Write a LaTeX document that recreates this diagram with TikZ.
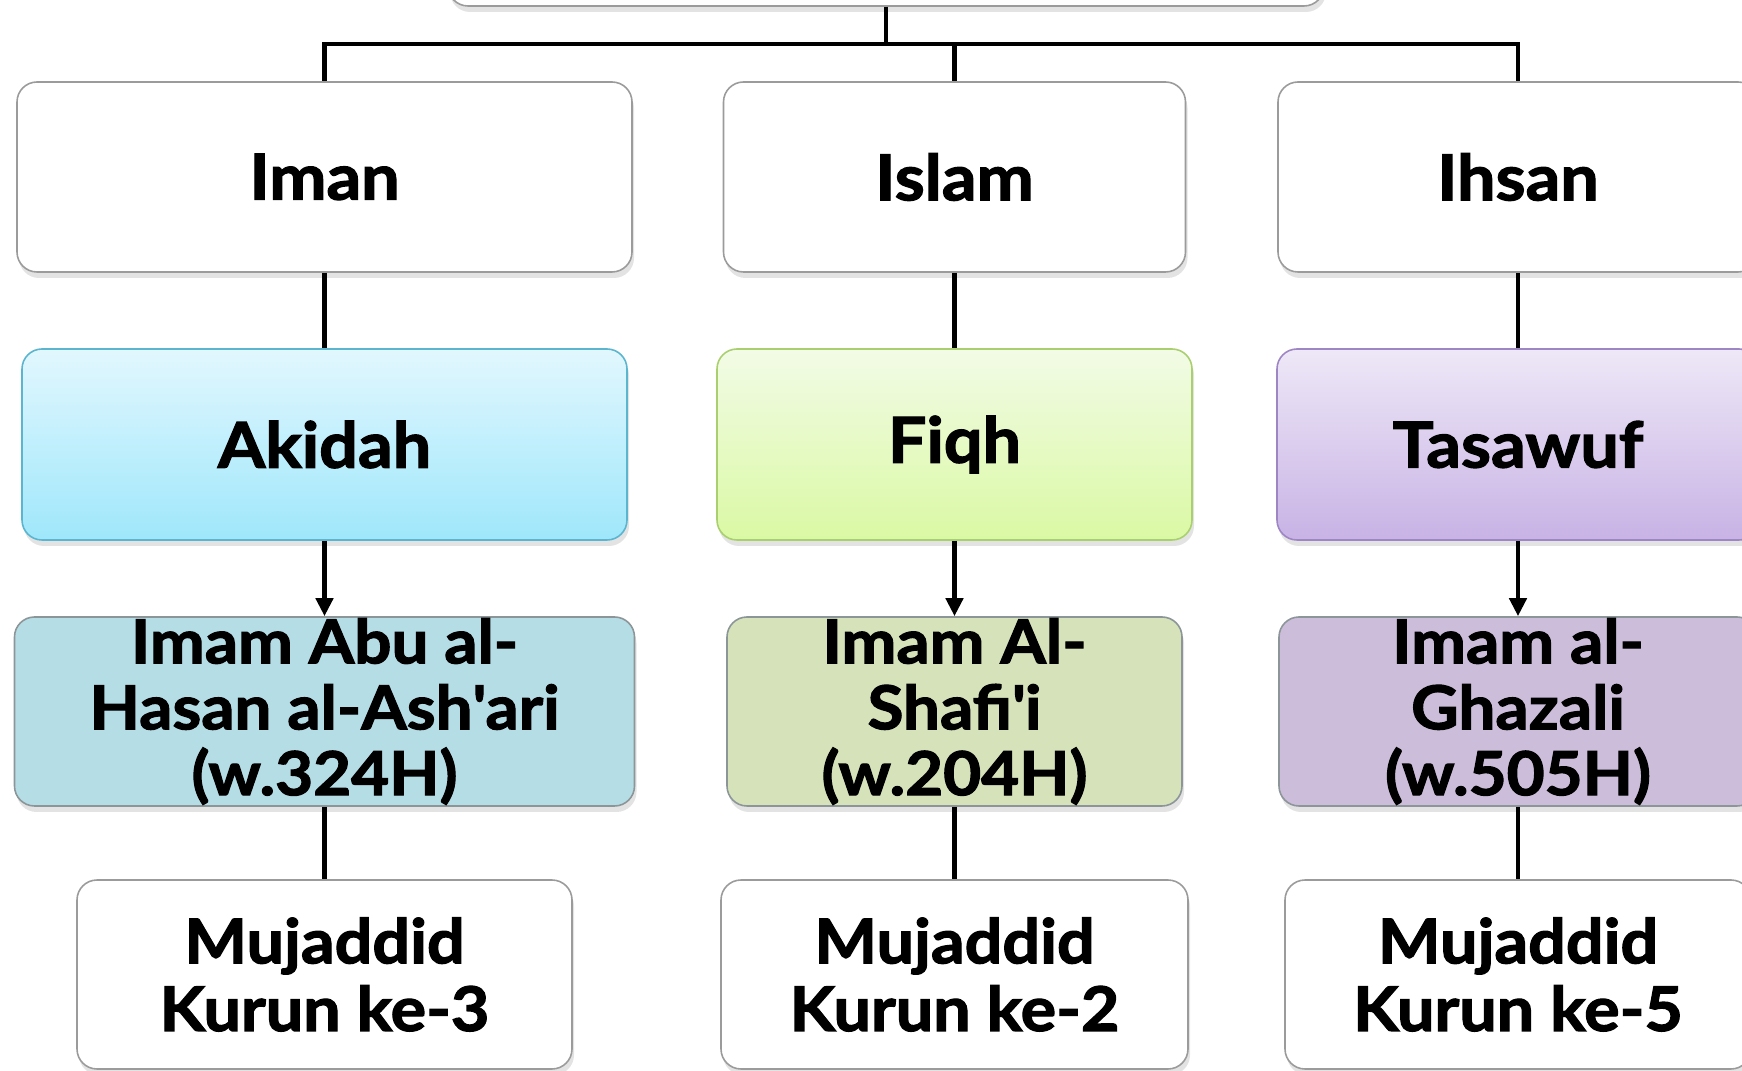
\documentclass[tikz,border=0pt]{standalone}
\usepackage{fontspec}
\setmainfont{Lato}[BoldFeatures={FakeBold=2, FakeStretch=1.08}]
\usetikzlibrary{arrows.meta, shadows}

\definecolor{boxGray}{HTML}{9B9B9B}
\definecolor{imamGray}{HTML}{8C9598}
\definecolor{akidahTop}{HTML}{E2F7FE}
\definecolor{akidahBot}{HTML}{9FE7FB}
\definecolor{akidahLine}{HTML}{5BB5CF}
\definecolor{fiqhTop}{HTML}{F2FBE6}
\definecolor{fiqhBot}{HTML}{DAF9A4}
\definecolor{fiqhLine}{HTML}{A9CF6E}
\definecolor{tasawufTop}{HTML}{EEE8F7}
\definecolor{tasawufBot}{HTML}{C8B3E5}
\definecolor{tasawufLine}{HTML}{9E86C4}
\definecolor{abuFill}{HTML}{B5DDE6}
\definecolor{shafiFill}{HTML}{D5E2BA}
\definecolor{ghazaliFill}{HTML}{CCBDDA}

\begin{document}
\begin{tikzpicture}[
    box/.style={rectangle, rounded corners=4mm, draw=#1, line width=0.9pt, fill=white, align=center,
        inner sep=0pt, font=\fontsize{36}{40}\selectfont\bfseries,
        drop shadow={shadow xshift=0.4mm, shadow yshift=-1.2mm, opacity=0.22}},
    box/.default=boxGray,
    field/.style={box=#1, minimum height=3.82cm},
    imam/.style={box=imamGray, fill=#1, minimum height=3.78cm, font=\fontsize{34.5}{37.5}\selectfont\bfseries},
    mujaddid/.style={box, minimum height=3.78cm, font=\fontsize{35}{38.5}\selectfont\bfseries},
    link/.style={line width=2.5pt, black},
    arrow/.style={link, -{Triangle[length=3.6mm, width=3.4mm]}}
]
    \useasboundingbox (0,0) rectangle (34.84,21.42);

    % Top
    \node[box, minimum width=17.52cm, minimum height=3cm] (root) at (17.72,22.8) {};

    % --- ROW 1: Iman, Islam, Ihsan ---
    \node[box, minimum width=12.3cm, minimum height=3.8cm] (iman) at (6.49,17.88) {Iman};
    \node[box, minimum width=9.24cm, minimum height=3.8cm] (islam) at (19.09,17.88) {Islam};
    \node[box, minimum width=9.6cm, minimum height=3.8cm] (ihsan) at (30.36,17.88) {Ihsan};

    % --- ROW 2: Fields ---
    \node[field=akidahLine, top color=akidahTop, bottom color=akidahBot, minimum width=12.1cm] (akidah) at (6.49,12.53) {Akidah};
    \node[field=fiqhLine, top color=fiqhTop, bottom color=fiqhBot, minimum width=9.5cm] (fiqh) at (19.09,12.53) {Fiqh};
    \node[field=tasawufLine, top color=tasawufTop, bottom color=tasawufBot, minimum width=9.64cm] (tasawuf) at (30.36,12.53) {Tasawuf};

    % --- ROW 3: Imams ---
    \node[imam=abuFill, minimum width=12.4cm] (asyari) at (6.49,7.19) {Imam Abu al-\\Hasan al-Ash\textquotesingle ari\\(w.324H)};
    \node[imam=shafiFill, minimum width=9.1cm] (syafii) at (19.09,7.19) {Imam Al-\\Shafi\textquotesingle i\\(w.204H)};
    \node[imam=ghazaliFill, minimum width=9.56cm] (ghazali) at (30.36,7.19) {Imam al-\\Ghazali\\(w.505H)};

    % --- ROW 4: Mujaddid ---
    \node[mujaddid, minimum width=9.9cm] (kurun3) at (6.49,1.93) {Mujaddid\\Kurun ke-3};
    \node[mujaddid, minimum width=9.34cm] (kurun2) at (19.09,1.93) {Mujaddid\\Kurun ke-2};
    \node[mujaddid, minimum width=9.32cm] (kurun5) at (30.36,1.93) {Mujaddid\\Kurun ke-5};

    % Connectors
    \draw[link] (root.south) -- ++(0,-0.74) -| (iman.north);
    \draw[link] (root.south) -- ++(0,-0.74) -| (islam.north);
    \draw[link] (root.south) -- ++(0,-0.74) -| (ihsan.north);
    \draw[link] (iman) -- (akidah);
    \draw[link] (islam) -- (fiqh);
    \draw[link] (ihsan) -- (tasawuf);
    \draw[arrow] (akidah) -- (asyari);
    \draw[arrow] (fiqh) -- (syafii);
    \draw[arrow] (tasawuf) -- (ghazali);
    \draw[link] (asyari.south) -- (kurun3.north);
    \draw[link] (syafii.south) -- (kurun2.north);
    \draw[link] (ghazali.south) -- (kurun5.north);
\end{tikzpicture}
\end{document}
